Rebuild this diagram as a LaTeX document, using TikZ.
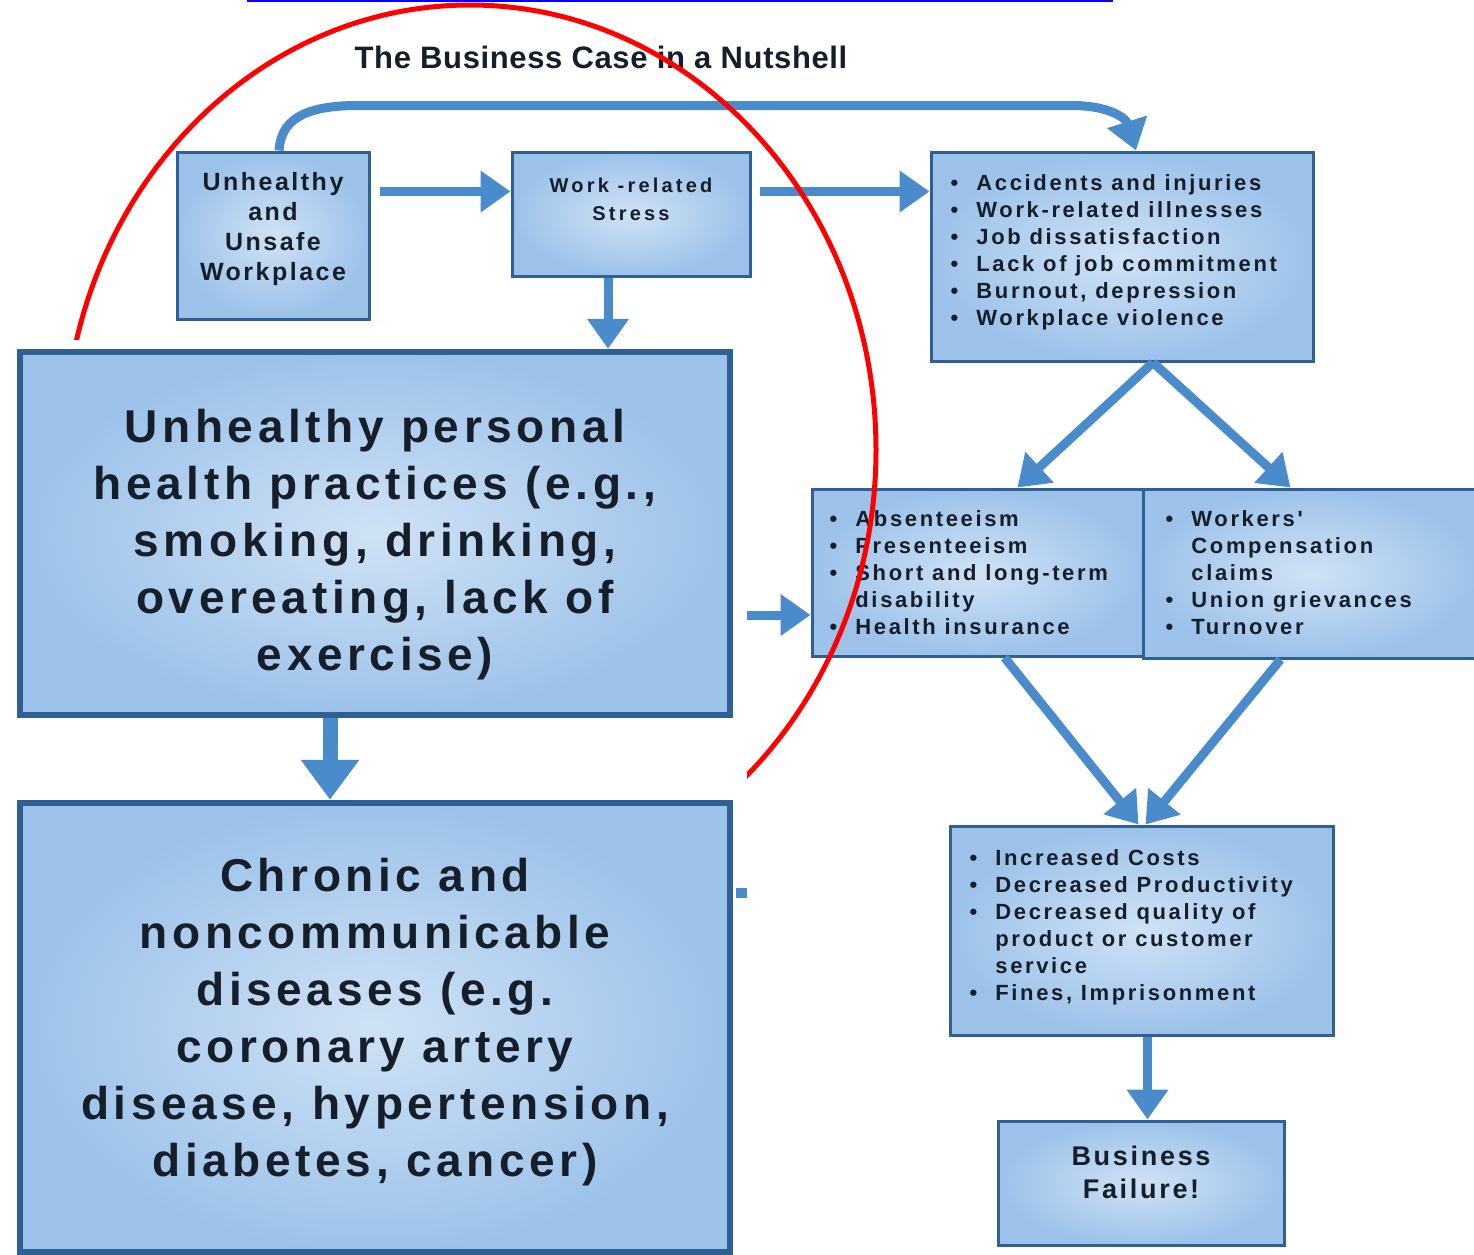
\documentclass[tikz,border=0pt]{standalone}
\usepackage{fontspec}
\setmainfont{Liberation Sans}
\newfontfamily\wa[LetterSpace=12]{Liberation Sans}
\newfontfamily\wb[LetterSpace=16]{Liberation Sans}
\newfontfamily\wc[LetterSpace=10]{Liberation Sans}
\newfontfamily\wt[LetterSpace=2]{Liberation Sans}
\usetikzlibrary{arrows.meta,calc}
\definecolor{boxfill}{HTML}{9CC2EA}
\definecolor{boxin}{HTML}{CFE2F5}
\definecolor{boxline}{HTML}{2E6093}
\definecolor{arrowblue}{HTML}{4A8CCB}
\definecolor{ink}{HTML}{161E2A}
\tikzset{
  box/.style={draw=boxline, line width=3pt, inner color=boxin, outer color=boxfill, inner sep=0pt},
  bigbox/.style={box, line width=6.5pt},
  arr/.style={draw=arrowblue, line width=9pt, -{Triangle[length=30pt,width=40pt]}},
  bigarr/.style={draw=arrowblue, line width=15pt, -{Triangle[length=40pt,width=56pt]}},
  txt/.style={text=ink, inner sep=0pt},
  listtxt/.style={txt, anchor=west, font=\fontsize{22}{27}\selectfont\wa\bfseries},
}
\newcommand\bl{\textbullet}
\begin{document}
\begin{tikzpicture}[x=1pt,y=-1pt]
\useasboundingbox (0,0) rectangle (1474,1254);
\fill[white] (0,0) rectangle (1474,1254);
% hyperlink underline
\draw[blue, line width=2.5pt] (247,1) -- (1113,1);
% title
\node[txt, font=\fontsize{31}{36}\selectfont\wt\bfseries] (title) at (601,57) {The Business Case in a Nutshell};

% right side boxes
\node[box, minimum width=192pt, minimum height=167pt] (b1) at (273,235.5) {};
\node[box, minimum width=238pt, minimum height=124pt] (b2) at (631,214) {};
\node[box, minimum width=382pt, minimum height=209pt] (b3) at (1122,256.5) {};
\node[box, minimum width=331pt, minimum height=167pt] (b4) at (977.5,572.5) {};
\node[box, minimum width=335pt, minimum height=169pt] (b5) at (1310.5,573.5) {};
\node[box, minimum width=383pt, minimum height=209pt] (b6) at (1141.5,930.5) {};
\node[box, minimum width=286pt, minimum height=124pt] (b7) at (1141,1183) {};

\node[txt, align=center, font=\fontsize{25}{30}\selectfont\wc\bfseries] (t1) at ([yshift=6pt]b1.center) {Unhealthy\\and\\Unsafe\\Workplace};
\node[txt, align=center, font=\fontsize{20}{28}\selectfont\wb\bfseries] (t2) at ([yshift=15pt]b2.center) {Work -related\\Stress};
\node[listtxt] (t3) at ([xshift=21pt,yshift=4pt]b3.west) {\begin{tabular}{@{}l@{\hspace{18pt}}l@{}}
\bl & Accidents and injuries\\
\bl & Work-related illnesses\\
\bl & Job dissatisfaction\\
\bl & Lack of job commitment\\
\bl & Burnout, depression\\
\bl & Workplace violence
\end{tabular}};
\node[listtxt] (t4) at ([xshift=19pt,yshift=-3pt]b4.west) {\begin{tabular}{@{}l@{\hspace{18pt}}l@{}}
\bl & Absenteeism\\
\bl & Presenteeism\\
\bl & Short and long-term\\
 & disability\\
\bl & Health insurance
\end{tabular}};
\node[listtxt] (t5) at ([xshift=21pt,yshift=-2pt]b5.west -| b4.east) {\begin{tabular}{@{}l@{\hspace{18pt}}l@{}}
\bl & Workers'\\
 & Compensation\\
 & claims\\
\bl & Union grievances\\
\bl & Turnover
\end{tabular}};
\node[listtxt] (t6) at ([xshift=21pt,yshift=3pt]b6.west) {\begin{tabular}{@{}l@{\hspace{18pt}}l@{}}
\bl & Increased Costs\\
\bl & Decreased Productivity\\
\bl & Decreased quality of\\
 & product or customer\\
 & service\\
\bl & Fines, Imprisonment
\end{tabular}};
\node[txt, align=center, font=\fontsize{27}{33}\selectfont\wc\bfseries] (t7) at ([yshift=11pt]b7.center) {Business\\Failure!};

% arrows on the right
\draw[arr] ([xshift=6pt]b1.north) .. controls ($(b1.north)+(8,-30)$) and ($(b1.north)+(30,-44)$) .. ($(b1.north)+(80,-45)$)
  -- ($(b3.north)+(-50,-45)$) .. controls ($(b3.north)+(-12,-45)$) and ($(b3.north)+(4,-32)$) .. ([xshift=14pt]b3.north);
\draw[arr] ([xshift=9pt,yshift=-41pt]b1.north east) -- ([yshift=-41pt]b2.north west);
\draw[arr] ([xshift=8pt,yshift=-41pt]b2.north east) -- ([yshift=-41pt]b3.north west);
\draw[arr] ([xshift=31pt]b3.south) -- ([xshift=40pt]b4.north);
\draw[arr] ([xshift=31pt]b3.south) -- ([xshift=-20pt]b5.north);
\draw[arr] ([xshift=27pt]b4.south) -- ([xshift=-3pt]b6.north);
\draw[arr] ([xshift=-30pt]b5.south) -- ([xshift=4pt]b6.north);
\draw[arr] ([xshift=6pt]b6.south) -- ([xshift=6pt]b6.south |- b7.north);
\coordinate (c1) at (747,615);
\draw[arr] (c1) -- (c1 -| b4.west);

% red annotation ellipse
\draw[red, line width=5pt] (470,450) ellipse [x radius=406pt, y radius=445pt];

% pasted left panel
\fill[white] (0,340) rectangle (747,1254);
\node[bigbox, minimum width=710pt, minimum height=363pt] (b8) at (375,533.5) {};
\node[bigbox, minimum width=710pt, minimum height=449pt] (b9) at (375,1027.5) {};
\draw[arr] ([xshift=-23pt]b2.south) -- ([xshift=-23pt]b2.south |- b8.north);
\node[txt, align=center, font=\fontsize{46}{57}\selectfont\wc\bfseries] (t8) at ([yshift=-11pt]b8.center) {Unhealthy personal\\health practices (e.g.,\\smoking, drinking,\\overeating, lack of\\exercise)};
\node[txt, align=center, font=\fontsize{46}{57}\selectfont\wc\bfseries] (t9) at ([yshift=5pt]b9.center) {Chronic and\\noncommunicable\\diseases (e.g.\\coronary artery\\disease, hypertension,\\diabetes, cancer)};
\draw[bigarr] ([xshift=-45pt]b8.south) -- ([xshift=-45pt]b8.south |- b9.north);
\coordinate (c2) at (747,893);
\draw[draw=arrowblue, line width=10pt] ([xshift=3pt]b9.east |- c2) -- (c2);
\end{tikzpicture}
\end{document}
